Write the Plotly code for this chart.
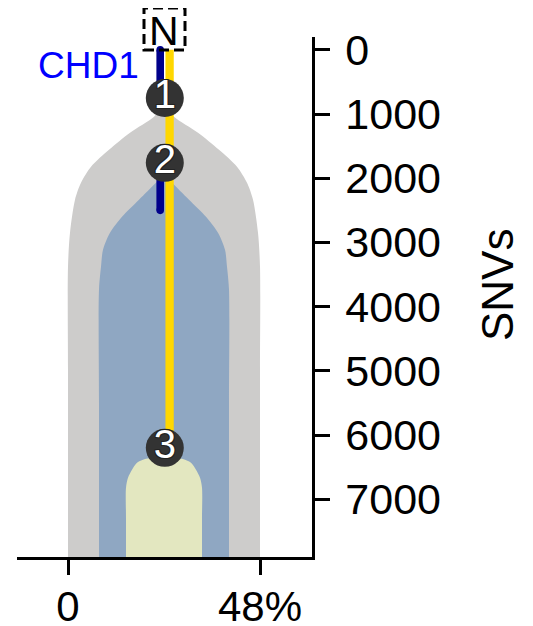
import plotly.graph_objects as go

# ---------------- data ----------------
clone_labels = ["1", "2", "3"]
clone_ccf = [48, 32.5, 19]            # cellular fraction (%) = full width of each clone
node_snvs = [750, 1760, 6200]         # SNV depth of each node (numbered circle)

# clone outline profiles: depth (SNVs) and half-width (%)
clone1_depth = [857, 1044, 1293, 1558, 1822, 2072, 2336, 2850, 3380, 5000, 7900]
clone1_halfw = [0, 2.5, 8.5, 13.75, 18.25, 20.75, 22.25, 23.5, 24, 24, 24]
clone2_depth = [1947, 2072, 2336, 2601, 2850, 3115, 3380, 3738, 5500, 7900]
clone2_halfw = [0, 2, 6.25, 10.5, 13.5, 15.25, 15.75, 16.25, 16.25, 16.25]
clone3_depth = [6355, 6371, 6433, 6542, 6667, 6822, 7300, 7900]
clone3_halfw = [0, 4.5, 6.75, 8, 9, 9.5, 9.5, 9.5]

trunk_snvs = [0, 6200]                       # yellow trunk
chd1_segments = [[0, 750], [1760, 2500]]     # CHD1 (dark blue)
gene_label = "CHD1"
gene_label_snv = 250
root_label = "N"

x_tick_vals = [0, 48]
x_tick_text = ["0", "48%"]
y_tick_vals = [0, 1000, 2000, 3000, 4000, 5000, 6000, 7000]
y_title = "SNVs"

# ---------------- style ----------------
FONT = "Liberation Sans, Arial, sans-serif"
CENTER = 24.0
X_RANGE = [-12.75, 61]
Y_RANGE = [7900, -200]
PAD = 700  # extend fills beyond the bottom of the axis (clipped)
clone_colors = ["#cdcccb", "#8fa7c2", "#e3e7c0"]

fig = go.Figure()

profiles = [(clone1_depth, clone1_halfw), (clone2_depth, clone2_halfw), (clone3_depth, clone3_halfw)]
for (depth, halfw), col in zip(profiles, clone_colors):
    d = list(depth) + [depth[-1] + PAD]
    h = list(halfw) + [halfw[-1]]
    xs = [CENTER - v for v in h] + [CENTER + v for v in reversed(h)]
    ys = d + list(reversed(d))
    fig.add_trace(go.Scatter(
        x=xs, y=ys, mode="lines", fill="toself", fillcolor=col,
        line=dict(color=col, width=0, shape="spline", smoothing=0.8),
        hoverinfo="skip", showlegend=False))

# trunk line (yellow)
fig.add_trace(go.Scatter(
    x=[CENTER + 1.4, CENTER + 1.4], y=trunk_snvs, mode="lines",
    line=dict(color="#ffd700", width=8.3), hoverinfo="skip", showlegend=False))

# CHD1 segments (dark blue, rounded ends)
cx, cy = [], []
for a, b in chd1_segments:
    cx += [CENTER - 0.95, CENTER - 0.95, None]
    cy += [a, b, None]
fig.add_trace(go.Scatter(
    x=cx, y=cy, mode="lines+markers",
    line=dict(color="#00008b", width=7.6),
    marker=dict(color="#00008b", size=7.6),
    hoverinfo="skip", showlegend=False))

# nodes
fig.add_trace(go.Scatter(
    x=[CENTER + 0.2] * len(node_snvs), y=node_snvs, mode="markers+text",
    marker=dict(color="#333333", size=38, line=dict(width=0)),
    text=clone_labels, textposition="middle center",
    textfont=dict(family=FONT, size=40, color="white",
                  shadow="1px 1px 0 #222, -1px -1px 0 #222, 1px -1px 0 #222, -1px 1px 0 #222"),
    cliponaxis=False, hoverinfo="skip", showlegend=False))

# CHD1 label
fig.add_annotation(x=18.2, y=gene_label_snv, xref="x", yref="y", text=gene_label,
                   showarrow=False, xanchor="right", yanchor="middle",
                   font=dict(family=FONT, size=37, color="#0000ff"))

# root "N" with dashed box
fig.add_annotation(x=CENTER + 0.1, y=1.0125, xref="x", yref="paper", text=root_label,
                   showarrow=False, xanchor="center", yanchor="middle",
                   font=dict(family=FONT, size=41, color="black"))
fig.add_shape(type="rect", xref="x", yref="paper", x0=19, x1=29.25, y0=0.975, y1=1.0558,
              line=dict(color="black", width=3, dash="10px,5px"), layer="above")

# axis title
fig.add_annotation(x=1.627, y=0.523, xref="paper", yref="paper", text=y_title,
                   showarrow=False, textangle=-90, xanchor="center", yanchor="middle",
                   font=dict(family=FONT, size=44, color="black"))

# the page body adds an 8px offset; the figure is sized to fill the window from there
fig.update_layout(
    width=525, height=618,
    margin=dict(l=9, r=221, t=29, b=69, pad=0, autoexpand=False),
    paper_bgcolor="white", plot_bgcolor="white",
    font=dict(family=FONT, color="black"),
    xaxis=dict(range=X_RANGE, tickvals=x_tick_vals, ticktext=x_tick_text,
               showline=True, linecolor="black", linewidth=2.5,
               ticks="outside", ticklen=15, tickwidth=2.5, tickcolor="black",
               tickfont=dict(family=FONT, size=42, color="black"),
               showgrid=False, zeroline=False, ticklabelstandoff=-4, automargin=False),
    yaxis=dict(range=Y_RANGE, tickvals=y_tick_vals, side="right",
               showline=True, linecolor="black", linewidth=2.5,
               ticks="outside", ticklen=15, tickwidth=2.5, tickcolor="black",
               tickfont=dict(family=FONT, size=43, color="black"),
               showgrid=False, zeroline=False, ticklabelstandoff=7, automargin=False),
)

fig.write_html("out.html")
